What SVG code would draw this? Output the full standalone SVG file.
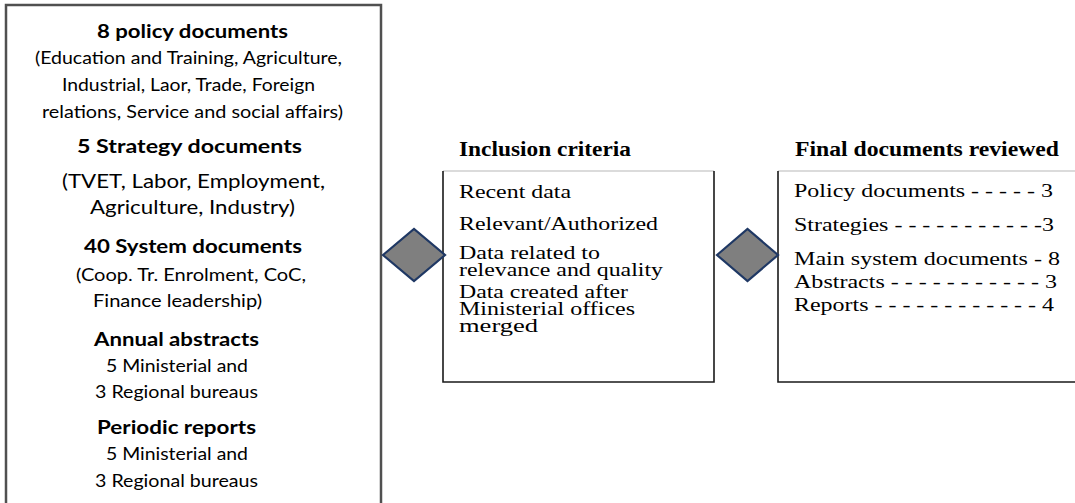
<svg xmlns="http://www.w3.org/2000/svg" width="1075" height="503" viewBox="0 0 1075 503">
<style>
.bg{fill:#ffffff}
.frame{fill:none;stroke:#505050;stroke-width:2.5}
.edge{fill:none;stroke:#1a1a1a;stroke-width:1.6}
.topedge{fill:none;stroke:#cfcfcf;stroke-width:1.4}
.dia{fill:#7f7f7f;stroke:#1f3864;stroke-width:2.2;stroke-linejoin:miter}
.s{font-family:Lato,"Liberation Sans",sans-serif;fill:#000}
.sh{font-family:Lato,"Liberation Sans",sans-serif;font-weight:700;font-size:18.5px;fill:#000}
.b16{font-size:17px}
.b18{font-size:18.5px}
.t{font-family:"Liberation Serif","Times New Roman",serif;font-size:19.5px;fill:#000}
.tt{font-family:"Liberation Serif","Times New Roman",serif;font-size:18.5px;fill:#000}
.th{font-family:"Liberation Serif","Times New Roman",serif;font-size:20px;font-weight:700;fill:#000}
</style>
<rect class="bg" x="0" y="0" width="1075" height="503"/>

<g id="node-sources">
<path class="frame" d="M6,510 V5 H381 V510"/>
<text class="sh" x="97" y="38" textLength="191" lengthAdjust="spacingAndGlyphs">8 policy documents</text>
<text class="s b16" x="35" y="64" textLength="307" lengthAdjust="spacingAndGlyphs">(Education and Training, Agriculture,</text>
<text class="s b16" x="62" y="91" textLength="253" lengthAdjust="spacingAndGlyphs">Industrial, Laor, Trade, Foreign</text>
<text class="s b16" x="42" y="118" textLength="301" lengthAdjust="spacingAndGlyphs">relations, Service and social affairs)</text>
<text class="sh" x="77" y="153" textLength="225" lengthAdjust="spacingAndGlyphs">5 Strategy documents</text>
<text class="s b18" x="62" y="188" textLength="263" lengthAdjust="spacingAndGlyphs">(TVET, Labor, Employment,</text>
<text class="s b18" x="90" y="214" textLength="205" lengthAdjust="spacingAndGlyphs">Agriculture, Industry)</text>
<text class="sh" x="84" y="253" textLength="218" lengthAdjust="spacingAndGlyphs">40 System documents</text>
<text class="s b16" x="76" y="281" textLength="230" lengthAdjust="spacingAndGlyphs">(Coop. Tr. Enrolment, CoC,</text>
<text class="s b16" x="93" y="307" textLength="169" lengthAdjust="spacingAndGlyphs">Finance leadership)</text>
<text class="sh" x="94" y="346" textLength="165" lengthAdjust="spacingAndGlyphs">Annual abstracts</text>
<text class="s b16" x="106" y="372" textLength="142" lengthAdjust="spacingAndGlyphs">5 Ministerial and</text>
<text class="s b16" x="95" y="398" textLength="163" lengthAdjust="spacingAndGlyphs">3 Regional bureaus</text>
<text class="sh" x="97" y="434" textLength="159" lengthAdjust="spacingAndGlyphs">Periodic reports</text>
<text class="s b16" x="106" y="460" textLength="142" lengthAdjust="spacingAndGlyphs">5 Ministerial and</text>
<text class="s b16" x="95" y="487" textLength="163" lengthAdjust="spacingAndGlyphs">3 Regional bureaus</text>
</g>

<g id="node-inclusion">
<text class="th" x="459" y="156" textLength="172" lengthAdjust="spacingAndGlyphs">Inclusion criteria</text>
<path class="topedge" d="M443,171 H714"/>
<path class="edge" d="M443,171 V382 H714 V171"/>
<text class="t" x="459" y="198" textLength="112" lengthAdjust="spacingAndGlyphs">Recent data</text>
<text class="t" x="459" y="230" textLength="199" lengthAdjust="spacingAndGlyphs">Relevant/Authorized</text>
<text class="tt" x="459" y="259" textLength="141" lengthAdjust="spacingAndGlyphs">Data related to</text>
<text class="tt" x="459" y="276" textLength="204" lengthAdjust="spacingAndGlyphs">relevance and quality</text>
<text class="tt" x="459" y="298" textLength="169" lengthAdjust="spacingAndGlyphs">Data created after</text>
<text class="tt" x="459" y="315" textLength="176" lengthAdjust="spacingAndGlyphs">Ministerial offices</text>
<text class="tt" x="459" y="332" textLength="79" lengthAdjust="spacingAndGlyphs">merged</text>
</g>

<g id="node-final">
<text class="th" x="795" y="156" textLength="264" lengthAdjust="spacingAndGlyphs">Final documents reviewed</text>
<path class="topedge" d="M778,171 H1075"/>
<path class="edge" d="M778,171 V382 H1075"/>
<text class="t" x="794" y="197" textLength="259" lengthAdjust="spacingAndGlyphs">Policy documents - - - - - 3</text>
<text class="t" x="794" y="231" textLength="260" lengthAdjust="spacingAndGlyphs">Strategies - - - - - - - - - - -3</text>
<text class="t" x="794" y="265" textLength="266" lengthAdjust="spacingAndGlyphs">Main system documents - 8</text>
<text class="t" x="794" y="288" textLength="263" lengthAdjust="spacingAndGlyphs">Abstracts - - - - - - - - - - - 3</text>
<text class="t" x="794" y="311" textLength="260" lengthAdjust="spacingAndGlyphs">Reports - - - - - - - - - - - - 4</text>
</g>

<g id="connectors">
<polygon class="dia" points="383,255 414,229 445,255 414,281"/>
<polygon class="dia" points="717,255 747.5,229 778,255 747.5,281"/>
</g>
</svg>
